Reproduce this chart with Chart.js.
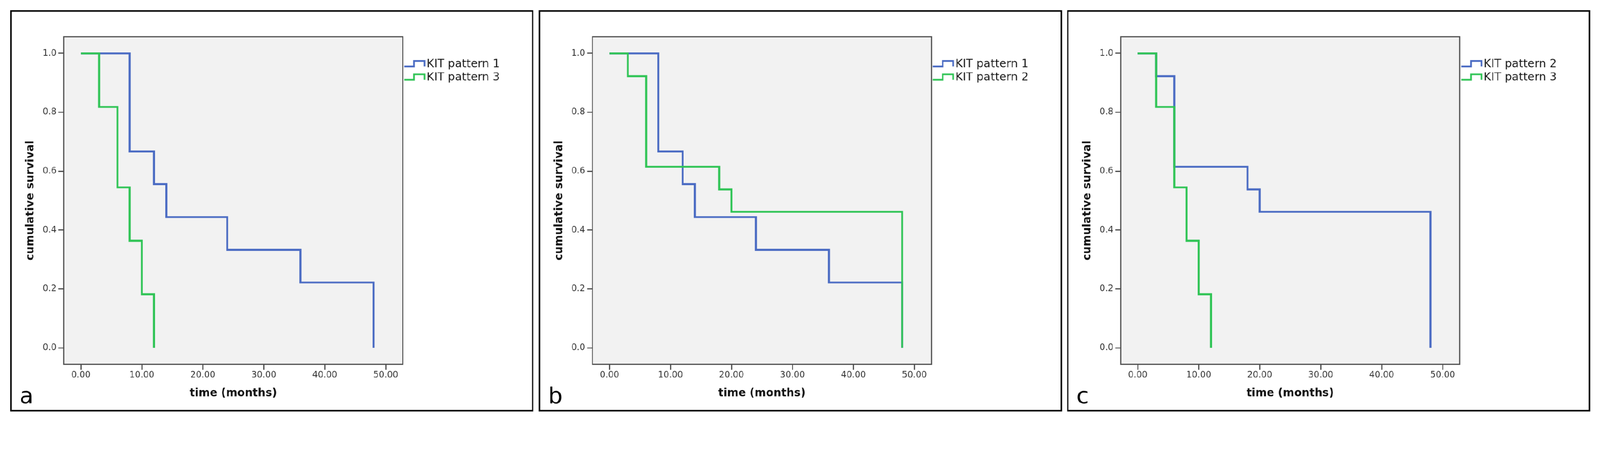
<!DOCTYPE html>
<html>
<head>
<meta charset="utf-8">
<script src="https://cdn.jsdelivr.net/npm/chart.js@4/dist/chart.umd.min.js"></script>
<style>
  html, body { margin: 0; padding: 0; background: #fff; overflow: hidden; }
  #stage { position: absolute; left: 0; top: 0; width: 4416px; height: 1167px; transform-origin: 0 0; }
  .panel { position: absolute; top: 28px; width: 1436px; height: 1099px; border: 4px solid #000; background: #fff; }
  .panel canvas { display: block; }
</style>
</head>
<body>
<div id="stage">
  <div class="panel" style="left:28px"><canvas id="chartA"></canvas></div>
  <div class="panel" style="left:1487px"><canvas id="chartB"></canvas></div>
  <div class="panel" style="left:2945px"><canvas id="chartC"></canvas></div>
</div>
<script>
// Kaplan-Meier steps (time in months, cumulative survival)
const monthsKit1 = [0, 8, 12, 14, 24, 36, 48]
const survivalKit1 = [1.0, 0.667, 0.556, 0.444, 0.333, 0.222, 0.0]

const monthsKit2 = [0, 3, 6, 18, 20, 48]
const survivalKit2 = [1.0, 0.923, 0.615, 0.538, 0.462, 0.0]

const monthsKit3 = [0, 3, 6, 8, 10, 12]
const survivalKit3 = [1.0, 0.818, 0.545, 0.364, 0.182, 0.0]

const xTicks = [0, 10, 20, 30, 40, 50]
const yTicks = [0, 0.2, 0.4, 0.6, 0.8, 1.0]

const BLUE = "#4a6bc3"
const GREEN = "#2fc455"
const FONT = "'DejaVu Sans', sans-serif"

// the layout is made for a 4416px wide page; fit it to whatever the viewport really is
const fit = window.innerWidth / 4416
document.getElementById("stage").style.transform = `scale(${fit})`
const pixelRatio = (window.devicePixelRatio || 1) * fit

const toPoints = (months, survival) => months.map((m, i) => ({ x: m, y: survival[i] }))

// grey plot background with a dark frame, SPSS style
const plotFrame = {
  id: "plotFrame",
  beforeDatasetsDraw(chart) {
    const { ctx, chartArea: a } = chart
    ctx.save()
    ctx.fillStyle = "#f2f2f2"
    ctx.fillRect(a.left, a.top, a.right - a.left, a.bottom - a.top)
    ctx.strokeStyle = "#4d4d4d"
    ctx.lineWidth = 3
    ctx.strokeRect(a.left, a.top, a.right - a.left, a.bottom - a.top)
    ctx.restore()
  }
}

// legend with the little step icon, placed just right of the plot
const stepLegend = {
  id: "stepLegend",
  afterDraw(chart) {
    const { ctx, chartArea: a } = chart
    ctx.save()
    chart.data.datasets.forEach((ds, i) => {
      const cy = a.top + 77 + i * 37
      const x0 = a.right + 4
      ctx.strokeStyle = ds.borderColor
      ctx.lineWidth = 4.5
      ctx.beginPath()
      ctx.moveTo(x0, cy + 5)
      ctx.lineTo(x0 + 27, cy + 5)
      ctx.lineTo(x0 + 27, cy - 10)
      ctx.lineTo(x0 + 56, cy - 10)
      ctx.lineTo(x0 + 56, cy + 5)
      ctx.stroke()
      ctx.fillStyle = "#1a1a1a"
      ctx.font = `31px ${FONT}`
      ctx.textBaseline = "middle"
      ctx.fillText(ds.label, x0 + 62, cy - 1)
    })
    ctx.restore()
  }
}

const panelLetter = {
  id: "panelLetter",
  afterDraw(chart, args, opts) {
    const { ctx } = chart
    ctx.save()
    ctx.fillStyle = "#000"
    ctx.font = `62px ${FONT}`
    ctx.textBaseline = "alphabetic"
    ctx.fillText(opts.text, 22, 1080)
    ctx.restore()
  }
}

function kmChart(id, letter, first, second) {
  return new Chart(document.getElementById(id), {
    type: "line",
    data: {
      datasets: [
        { label: first.label, data: first.data, borderColor: BLUE, order: 2 },
        { label: second.label, data: second.data, borderColor: GREEN, order: 1 }
      ].map(ds => ({ ...ds, stepped: true, borderWidth: 5.5, pointRadius: 0, fill: false, tension: 0 }))
    },
    options: {
      responsive: true,
      maintainAspectRatio: false,
      animation: false,
      devicePixelRatio: pixelRatio,
      events: [],
      layout: { padding: { top: 69, right: 357, bottom: 0, left: 0 } },
      plugins: {
        legend: { display: false },
        tooltip: { enabled: false },
        panelLetter: { text: letter }
      },
      scales: {
        x: {
          type: "linear",
          min: -2.8,
          max: 52.8,
          afterBuildTicks: (axis) => { axis.ticks = xTicks.map(v => ({ value: v })) },
          afterFit: (scale) => { scale.height = 126 },
          ticks: {
            autoSkip: false,
            maxRotation: 0,
            padding: 0,
            color: "#333",
            font: { family: FONT, size: 24 },
            callback: (v) => v.toFixed(2)
          },
          grid: { drawOnChartArea: false, drawTicks: true, tickLength: 15, tickWidth: 3, tickColor: "#444" },
          border: { display: false },
          title: {
            display: true,
            text: "time (months)",
            color: "#111",
            font: { family: FONT, size: 30, weight: "bold" },
            padding: { top: 0, bottom: 28 }
          }
        },
        y: {
          min: -0.056,
          max: 1.057,
          afterBuildTicks: (axis) => { axis.ticks = yTicks.map(v => ({ value: v })) },
          afterFit: (scale) => { scale.width = 144 },
          ticks: {
            autoSkip: false,
            padding: 5,
            color: "#333",
            font: { family: FONT, size: 24 },
            callback: (v) => v.toFixed(1)
          },
          grid: { drawOnChartArea: false, drawTicks: true, tickLength: 15, tickWidth: 3, tickColor: "#444" },
          border: { display: false },
          title: {
            display: true,
            text: "cumulative survival",
            color: "#111",
            font: { family: FONT, size: 30, weight: "bold" },
            padding: { top: 35, bottom: 0 }
          }
        }
      }
    },
    plugins: [plotFrame, stepLegend, panelLetter]
  })
}

const kit1 = { label: "KIT pattern 1", data: toPoints(monthsKit1, survivalKit1) }
const kit2 = { label: "KIT pattern 2", data: toPoints(monthsKit2, survivalKit2) }
const kit3 = { label: "KIT pattern 3", data: toPoints(monthsKit3, survivalKit3) }

kmChart("chartA", "a", kit1, kit3)
kmChart("chartB", "b", kit1, kit2)
kmChart("chartC", "c", kit2, kit3)
</script>
</body>
</html>
